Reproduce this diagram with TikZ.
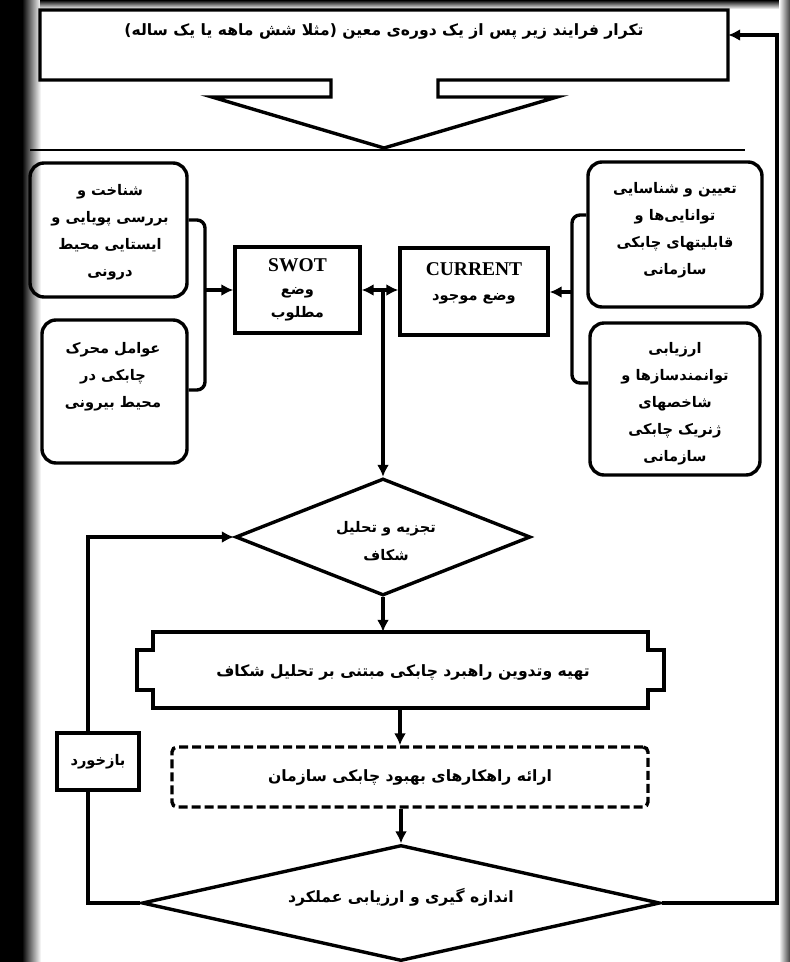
\documentclass[tikz,border=0pt]{standalone}
\usepackage{fontspec}
\setmainfont{Liberation Serif}
\newfontfamily\arabicfont[Script=Arabic]{DejaVu Sans}
\TeXXeTstate=1
\usetikzlibrary{shapes.geometric,arrows.meta}
\newcommand{\fa}[1]{{\arabicfont\bfseries\beginR #1\endR}}
\tikzset{
  lw/.style={line width=3.4pt},
  boxline/.style={draw, line width=3.4pt, inner sep=0pt},
  rbox/.style={boxline, rounded corners=14pt},
  txt/.style={align=center, font=\fontsize{14.6}{27}\selectfont, inner sep=0pt},
  ltxt/.style={align=center, font=\fontsize{15.6}{27}\selectfont, inner sep=0pt},
  arr/.style={lw, -{Latex[length=12pt,width=12pt]}},
  darr/.style={lw, {Latex[length=12pt,width=12pt]}-{Latex[length=12pt,width=12pt]}},
}
\begin{document}
\begin{tikzpicture}[x=1pt,y=-1pt]
\useasboundingbox (0,0) rectangle (790,962);
% frame and shadow
\fill[black] (0,0) rectangle (790,962);
\fill[white] (40,9) rectangle (780,962);
\shade[left color=black,right color=white] (22,0) rectangle (41,962);
\shade[top color=black,bottom color=white] (40,0) rectangle (780,9);
\shade[left color=white,right color=black!75] (779,0) rectangle (790,962);

% top box with arrow
\draw[lw, line join=miter] (40,10) -- (728,10) -- (728,80) -- (438,80) -- (438,97) -- (557,97)
  -- (384,148) -- (212,97) -- (331,97) -- (331,80) -- (40,80) -- cycle;
\node[minimum width=688, minimum height=70, inner sep=0pt] (topbox) at (384,45) {};
\node[ltxt] (toptxt) at (384,31) {\fa{تکرار فرایند زیر پس از یک دوره‌ی معین (مثلا شش ماهه یا یک ساله)}};
\draw[line width=2.4pt] (30,150) -- (745,150);

% left boxes
\node[rbox, minimum width=157, minimum height=134] (tl) at (108.5,230) {};
\node[txt] (tltxt) at (110,232) {\fa{شناخت و}\\\fa{بررسی پویایی و}\\\fa{ایستایی محیط}\\\fa{درونی}};
\node[rbox, minimum width=145, minimum height=143] (bl) at (114.5,391.5) {};
\node[txt] (bltxt) at (113,377) {\fa{عوامل محرک}\\\fa{چابکی در}\\\fa{محیط بیرونی}};

% right boxes
\node[rbox, minimum width=174, minimum height=145] (tr) at (675,234.5) {};
\node[txt] (trtxt) at (675,230) {\fa{تعیین و شناسایی}\\\fa{توانایی‌ها و}\\\fa{قابلیتهای چابکی}\\\fa{سازمانی}};
\node[rbox, minimum width=170, minimum height=152] (br) at (675,399) {};
\node[txt] (brtxt) at (675,404) {\fa{ارزیابی}\\\fa{توانمندسازها و}\\\fa{شاخصهای}\\\fa{ژنریک چابکی}\\\fa{سازمانی}};

% SWOT and CURRENT
\node[boxline, minimum width=125, minimum height=86] (swot) at (297.5,290) {};
\node[txt, font=\fontsize{14.6}{23}\selectfont] (swottxt) at (297.5,290) {\fontsize{19.5}{23}\selectfont\bfseries SWOT\\\fa{وضع}\\\fa{مطلوب}};
\node[boxline, minimum width=148, minimum height=87] (cur) at (474,291.5) {};
\node[txt, font=\fontsize{14.6}{25}\selectfont] (curtxt) at (474,283) {\fontsize{19.5}{25}\selectfont\bfseries CURRENT\\\fa{وضع موجود}};

% brackets
\coordinate (lbt) at (205,220);
\coordinate (lbb) at (205,390);
\coordinate (lbm) at (205,290);
\draw[lw, rounded corners=8pt] (lbt -| tl.east) -- (lbt) -- (lbb) -- (lbb -| bl.east);
\draw[arr] (lbm) -- (lbm -| swot.west);
\coordinate (rbt) at (572,215);
\coordinate (rbb) at (572,383);
\coordinate (rbm) at (572,292);
\draw[lw, rounded corners=8pt] (rbt -| tr.west) -- (rbt) -- (rbb) -- (rbb -| br.west);
\draw[arr] (rbm) -- (rbm -| cur.east);

% diamond 1
\node[diamond, draw, lw, inner sep=0pt, aspect=2.52, minimum width=295, minimum height=117] (d1) at (383,537) {};
\node[txt, font=\fontsize{14.6}{28}\selectfont] (d1txt) at (386,541) {\fa{تجزیه و تحلیل}\\\fa{شکاف}};

% double arrow and down
\coordinate (jm) at (383,290);
\draw[darr] (swot.east |- jm) -- (cur.west |- jm);
\draw[arr] (jm) -- (d1.north);

% notched box
\draw[lw, line join=miter] (153,632) -- (648,632) -- (648,650) -- (664,650) -- (664,690) -- (648,690)
  -- (648,708) -- (153,708) -- (153,690) -- (137,690) -- (137,650) -- (153,650) -- cycle;
\node[minimum width=527, minimum height=76, inner sep=0pt] (nb) at (400.5,670) {};
\node[ltxt] (nbtxt) at (403,672) {\fa{تهیه وتدوین راهبرد چابکی مبتنی بر تحلیل شکاف}};
\draw[arr] (d1.south) -- (d1.south |- nb.north);

% dashed box
\node[boxline, rounded corners=5pt, dash pattern=on 9pt off 4pt, minimum width=476, minimum height=60] (db) at (410,777) {};
\node[ltxt] (dbtxt) at (410,777) {\fa{ارائه راهکارهای بهبود چابکی سازمان}};
\coordinate (a2) at (400,708);
\draw[arr] (a2) -- (a2 |- db.north);

% diamond 2
\node[diamond, draw, lw, inner sep=0pt, aspect=4.47, minimum width=518, minimum height=116] (d2) at (401,903) {};
\node[ltxt] (d2txt) at (401,897) {\fa{اندازه گیری و ارزیابی عملکرد}};
\draw[arr] (d2.north |- db.south) -- (d2.north);

% feedback loop
\coordinate (fb1) at (88,903);
\coordinate (fb2) at (88,537);
\draw[arr] (d2.west) -- (fb1) -- (fb2) -- (d1.west);
\node[boxline, fill=white, minimum width=82, minimum height=57] (fb) at (98,761.5) {};
\node[txt] (fbtxt) at (98,762) {\fa{بازخورد}};

% repeat loop
\coordinate (rc1) at (777,903);
\coordinate (rc2) at (777,35);
\draw[arr] (d2.east) -- (rc1) -- (rc2) -- (rc2 -| topbox.east);
\end{tikzpicture}
\end{document}
